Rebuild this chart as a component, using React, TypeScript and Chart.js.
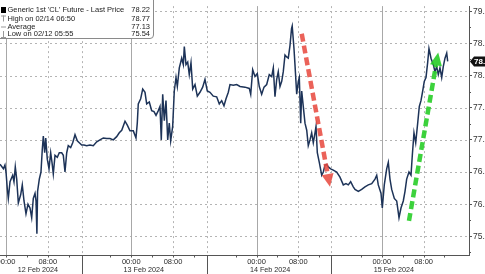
import React, { useEffect, useRef } from "react";
import { Chart, registerables } from "chart.js";

Chart.register(...registerables);

// ---- Data (hours since 12 Feb 2024 00:00, price in USD) ----
const HOURS = [
  -1.15, -0.5, -0.2, 0, 0.25, 0.44, 0.77, 1.28, 1.53, 1.78, 2.05, 2.36, 2.82, 3.12, 3.45, 3.83, 4.21, 4.6, 4.92, 5.23,
  5.56, 5.75, 5.92, 6.05, 6.38, 6.7, 6.95, 7.15, 7.41, 7.61, 7.91, 8.24, 8.56, 8.81, 9.06, 9.39, 9.83, 10.21, 10.67, 10.98,
  11.3, 11.63, 11.93, 12.39, 12.78, 13.22, 13.66, 14.04, 14.5, 14.94, 15.46, 16.09, 16.72, 17.38, 18.0, 18.64, 19.29, 19.92, 20.56, 21.2,
  21.7, 22.17, 22.8, 23.24, 23.75, 24.39, 24.9, 25.15, 25.34, 25.8, 26.19, 26.63, 26.95, 27.45, 27.91, 28.35, 28.74, 29.18, 29.5, 29.75,
  30.02, 30.33, 30.65, 30.98, 31.28, 31.55, 31.93, 32.24, 32.57, 32.82, 33.2, 33.66, 33.97, 34.16, 34.48, 34.81, 35.11, 35.44, 35.77, 36.21,
  36.65, 37.16, 37.68, 38.12, 38.56, 39.08, 39.71, 40.36, 40.86, 41.32, 41.76, 42.15, 42.59, 42.91, 43.54, 44.2, 44.83, 45.79, 46.61, 46.88,
  47.26, 47.7, 48.14, 48.52, 48.98, 49.43, 49.94, 50.44, 50.9, 51.21, 51.53, 51.86, 52.16, 52.49, 52.82, 53.12, 53.45, 53.77, 54.08, 54.41,
  54.7, 54.83, 55.17, 55.36, 55.69, 56.0, 56.19, 56.46, 56.65, 56.95, 57.28, 57.61, 57.91, 58.24, 58.56, 58.87, 59.2, 59.39, 59.64, 60.02,
  60.48, 60.79, 61.11, 61.44, 61.74, 62.2, 62.7, 63.35, 63.98, 64.62, 65.13, 65.57, 66.03, 66.53, 66.86, 67.5, 68.14, 68.77, 69.41, 70.06,
  70.69, 71.02, 71.32, 71.84, 72.09, 72.47, 72.93, 73.24, 73.56, 73.89, 74.39, 74.85, 75.29, 75.67, 76.11, 76.44, 76.76, 77.2, 77.59, 77.84,
  78.16, 78.49, 78.87, 79.18, 79.5, 79.83, 80.13, 80.46, 80.79, 81.03, 81.42, 81.86, 82.18, 82.51, 82.82, 83.14, 83.47, 83.77, 84.1, 84.43,
  84.62,
];

const PRICES = [
  76.62, 76.55, 76.61, 76.5, 76.24, 76.09, 76.35, 76.45, 76.35, 76.58, 76.39, 76.02, 76.15, 76.3, 76.05, 75.85, 76.0, 75.94, 75.79, 76.09,
  76.17, 76.05, 75.54, 76.2, 76.39, 76.5, 76.85, 77.06, 76.8, 77.03, 76.7, 76.55, 76.8, 76.65, 76.47, 76.76, 76.73, 76.8, 76.8, 76.76,
  76.5, 76.8, 76.91, 76.88, 76.955, 77.08, 76.985, 76.955, 76.92, 76.92, 76.91, 76.92, 76.91, 76.97, 77.0, 77.03, 77.02, 77.02, 77.0, 77.05,
  77.11, 77.15, 77.29, 77.23, 77.14, 77.14, 77.03, 77.26, 77.56, 77.64, 77.79, 77.74, 77.56, 77.59, 77.455, 77.44, 77.38, 77.455, 77.52, 77.0,
  77.71, 77.3, 77.61, 77.0, 77.26, 76.985, 77.21, 77.76, 77.97, 77.83, 78.12, 78.27, 78.17, 78.45, 78.17, 78.21, 78.015, 78.2, 77.79, 77.86,
  77.68, 77.74, 77.82, 77.94, 77.76, 77.74, 77.68, 77.67, 77.56, 77.61, 77.53, 77.64, 77.74, 77.86, 77.85, 77.86, 77.83, 77.82, 77.8, 77.71,
  78.09, 77.985, 78.03, 77.83, 77.71, 77.82, 77.86, 78.015, 77.985, 78.12, 77.67, 77.94, 78.06, 77.83, 77.91, 78.06, 78.32, 78.29, 78.27, 78.47,
  78.73, 78.77, 78.42, 78.17, 77.71, 77.91, 77.97, 77.26, 77.76, 77.52, 77.26, 77.15, 76.91, 77.0, 77.11, 76.955, 77.11, 77.21, 76.8, 76.65,
  76.45, 76.5, 76.61, 76.62, 76.58, 76.55, 76.53, 76.5, 76.42, 76.3, 76.32, 76.3, 76.35, 76.27, 76.23, 76.2, 76.23, 76.27, 76.3, 76.32,
  76.39, 76.45, 76.3, 76.17, 75.94, 76.3, 76.55, 76.65, 76.39, 76.23, 76.09, 76.05, 75.79, 75.94, 76.05, 76.2, 76.39, 76.5, 76.45, 76.76,
  77.11, 76.955, 77.26, 77.52, 77.61, 77.76, 77.91, 77.97, 78.21, 78.42, 78.27, 78.17, 78.06, 78.14, 78.015, 78.12, 77.97, 78.14, 78.27, 78.35,
  78.22,
];

const X_MIN = -1.15;
const X_MAX = 88.7;
const Y_MIN = 75.21;
const Y_MAX = 79.08;

const Y_TICKS = [75.5, 76.0, 76.5, 77.0, 77.5, 78.0, 78.5, 79.0];
const Y_MINOR_TICKS = [75.25, 75.75, 76.25, 76.75, 77.25, 77.75, 78.25, 78.75];

const MIDNIGHT_TICKS = [0, 24, 48, 72];
const MORNING_TICKS = [8, 32, 56, 80];
const TIME_TICKS = [0, 8, 24, 32, 48, 56, 72, 80];
const TIME_LABELS = ["00:00", "08:00", "00:00", "08:00", "00:00", "08:00", "00:00", "08:00"];
const X_MINOR_TICKS = [4, 12, 20, 28, 36, 44, 52, 60, 68, 76, 84];
const DAY_BOUNDS = [14.6, 38.5, 62.3];
const DAY_LABEL_POS = [6.1, 26.4, 50.6, 74.3];
const DAY_LABELS = ["12 Feb 2024", "13 Feb 2024", "14 Feb 2024", "15 Feb 2024"];

const LEGEND_NAMES = ["Generic 1st 'CL' Future - Last Price", "High on 02/14 06:50", "Average", "Low on 02/12 05:55"];
const LEGEND_VALUES = ["78.22", "78.77", "77.13", "75.54"];
const LAST_PRICE = 78.22;

const ARROW_DOWN = { from: [56.65, 78.65], to: [62.07, 76.27], color: "rgba(232,70,60,0.85)" };
const ARROW_UP = { from: [77.2, 75.74], to: [82.8, 78.36], color: "rgba(40,205,40,0.9)" };

const FONT = "'Liberation Sans', Arial, sans-serif";

function drawArrow(ctx: CanvasRenderingContext2D, x1: number, y1: number, x2: number, y2: number, color: string) {
  const ang = Math.atan2(y2 - y1, x2 - x1);
  const headLen = 13;
  const headHalf = 6;
  const bx = x2 - headLen * Math.cos(ang);
  const by = y2 - headLen * Math.sin(ang);
  ctx.save();
  ctx.strokeStyle = color;
  ctx.fillStyle = color;
  ctx.lineWidth = 4.5;
  ctx.setLineDash([8, 4]);
  ctx.beginPath();
  ctx.moveTo(x1, y1);
  ctx.lineTo(bx, by);
  ctx.stroke();
  ctx.setLineDash([]);
  ctx.beginPath();
  ctx.moveTo(x2, y2);
  ctx.lineTo(bx + headHalf * Math.sin(ang), by - headHalf * Math.cos(ang));
  ctx.lineTo(bx - headHalf * Math.sin(ang), by + headHalf * Math.cos(ang));
  ctx.closePath();
  ctx.fill();
  ctx.restore();
}

const decorPlugin = {
  id: "decor",
  beforeDatasetsDraw(chart: any) {
    const { ctx, chartArea } = chart;
    const xs = chart.scales.x;
    const ys = chart.scales.y;
    ctx.save();
    ctx.lineWidth = 1;
    ctx.strokeStyle = "#b4b4b4";
    ctx.setLineDash([2, 3]);
    Y_TICKS.forEach((v) => {
      const y = Math.round(ys.getPixelForValue(v)) + 0.5;
      ctx.beginPath();
      ctx.moveTo(chartArea.left, y);
      ctx.lineTo(chartArea.right, y);
      ctx.stroke();
    });
    [...MORNING_TICKS, ...DAY_BOUNDS].forEach((v) => {
      const x = Math.round(xs.getPixelForValue(v)) + 0.5;
      ctx.beginPath();
      ctx.moveTo(x, chartArea.top);
      ctx.lineTo(x, chartArea.bottom);
      ctx.stroke();
    });
    ctx.setLineDash([]);
    ctx.strokeStyle = "#a8a8a8";
    MIDNIGHT_TICKS.forEach((v) => {
      const x = Math.round(xs.getPixelForValue(v)) + 0.5;
      ctx.beginPath();
      ctx.moveTo(x, chartArea.top);
      ctx.lineTo(x, chartArea.bottom);
      ctx.stroke();
    });
    ctx.restore();
  },
  afterDatasetsDraw(chart: any) {
    const { ctx } = chart;
    const xs = chart.scales.x;
    const ys = chart.scales.y;
    [ARROW_DOWN, ARROW_UP].forEach((a) => {
      drawArrow(
        ctx,
        xs.getPixelForValue(a.from[0]),
        ys.getPixelForValue(a.from[1]),
        xs.getPixelForValue(a.to[0]),
        ys.getPixelForValue(a.to[1]),
        a.color
      );
    });
  },
  afterDraw(chart: any) {
    const { ctx, chartArea } = chart;
    const xs = chart.scales.x;
    const ys = chart.scales.y;
    const H = chart.height;
    ctx.save();
    ctx.strokeStyle = "#555";
    ctx.lineWidth = 1;
    const by = Math.round(chartArea.bottom) + 0.5;
    ctx.beginPath();
    ctx.moveTo(chartArea.left, by);
    ctx.lineTo(chartArea.right + 1, by);
    ctx.stroke();
    [...TIME_TICKS, ...X_MINOR_TICKS].forEach((v) => {
      const x = Math.round(xs.getPixelForValue(v)) + 0.5;
      ctx.beginPath();
      ctx.moveTo(x, by);
      ctx.lineTo(x, by + 2);
      ctx.stroke();
    });
    DAY_BOUNDS.forEach((v) => {
      const x = Math.round(xs.getPixelForValue(v)) + 0.5;
      ctx.beginPath();
      ctx.moveTo(x, by);
      ctx.lineTo(x, H);
      ctx.stroke();
    });
    ctx.fillStyle = "#2a2a2a";
    ctx.font = `7.5px ${FONT}`;
    ctx.textAlign = "center";
    ctx.textBaseline = "middle";
    TIME_TICKS.forEach((v, i) => {
      ctx.fillText(TIME_LABELS[i], xs.getPixelForValue(v), by + 6);
    });
    ctx.font = `7.2px ${FONT}`;
    DAY_LABELS.forEach((lbl, i) => {
      ctx.fillText(lbl, xs.getPixelForValue(DAY_LABEL_POS[i]), by + 14.5);
    });
    ctx.strokeStyle = "#555";
    Y_MINOR_TICKS.forEach((v) => {
      const y = Math.round(ys.getPixelForValue(v)) + 0.5;
      ctx.beginPath();
      ctx.moveTo(chartArea.right, y);
      ctx.lineTo(chartArea.right + 2, y);
      ctx.stroke();
    });
    const py = ys.getPixelForValue(LAST_PRICE);
    const tx = chartArea.right + 1;
    ctx.fillStyle = "#111";
    ctx.beginPath();
    ctx.moveTo(tx, py);
    ctx.lineTo(tx + 4, py - 5);
    ctx.lineTo(tx + 30, py - 5);
    ctx.lineTo(tx + 30, py + 5);
    ctx.lineTo(tx + 4, py + 5);
    ctx.closePath();
    ctx.fill();
    ctx.fillStyle = "#fff";
    ctx.font = `bold 8px ${FONT}`;
    ctx.textAlign = "left";
    ctx.fillText(LAST_PRICE.toFixed(2), tx + 4, py + 0.5);

    const lw = 153;
    const lh = 38;
    ctx.fillStyle = "#fff";
    ctx.strokeStyle = "#8a8a8a";
    ctx.lineWidth = 1;
    ctx.beginPath();
    ctx.moveTo(-2, -2);
    ctx.lineTo(lw + 0.5, -2);
    ctx.lineTo(lw + 0.5, lh - 3);
    ctx.quadraticCurveTo(lw + 0.5, lh + 0.5, lw - 3, lh + 0.5);
    ctx.lineTo(-2, lh + 0.5);
    ctx.closePath();
    ctx.fill();
    ctx.stroke();
    ctx.font = `7.5px ${FONT}`;
    ctx.textBaseline = "middle";
    const rows = [10, 18.5, 26.5, 34];
    ctx.fillStyle = "#000";
    ctx.fillRect(1, rows[0] - 3, 5, 6);
    ctx.strokeStyle = "#999";
    ctx.beginPath();
    ctx.moveTo(1, rows[1] - 3 + 0.5);
    ctx.lineTo(6, rows[1] - 3 + 0.5);
    ctx.moveTo(3.5, rows[1] - 3);
    ctx.lineTo(3.5, rows[1] + 3);
    ctx.moveTo(1, rows[2] + 0.5);
    ctx.lineTo(6, rows[2] + 0.5);
    ctx.moveTo(1, rows[3] + 3 + 0.5);
    ctx.lineTo(6, rows[3] + 3 + 0.5);
    ctx.moveTo(3.5, rows[3] - 3);
    ctx.lineTo(3.5, rows[3] + 3);
    ctx.stroke();
    ctx.fillStyle = "#222";
    LEGEND_NAMES.forEach((n, i) => {
      ctx.textAlign = "left";
      ctx.fillText(n, 7.5, rows[i]);
      ctx.textAlign = "right";
      ctx.fillText(LEGEND_VALUES[i], lw - 3, rows[i]);
    });
    ctx.restore();
  },
};

export default function App() {
  const ref = useRef<HTMLCanvasElement | null>(null);
  useEffect(() => {
    if (!ref.current) return;
    const points = HOURS.map((h, i) => ({ x: h, y: PRICES[i] }));
    const chart = new Chart(ref.current, {
      type: "line",
      data: {
        datasets: [
          {
            data: points,
            borderColor: "#1d3358",
            borderWidth: 1.5,
            pointRadius: 0,
            tension: 0,
          },
        ],
      },
      options: {
        animation: false,
        responsive: false,
        devicePixelRatio: 1,
        layout: { padding: { left: 0, top: 0, right: 0, bottom: 19 } },
        plugins: { legend: { display: false }, tooltip: { enabled: false } },
        scales: {
          x: { type: "linear", min: X_MIN, max: X_MAX, display: false },
          y: {
            position: "right",
            min: Y_MIN,
            max: Y_MAX,
            afterBuildTicks: (s: any) => {
              s.ticks = Y_TICKS.map((v) => ({ value: v }));
            },
            afterFit: (s: any) => {
              s.width = 16;
            },
            grid: { display: true, drawOnChartArea: false, drawTicks: true, tickLength: 3, color: "#555" },
            border: { display: true, color: "#555", width: 1 },
            ticks: {
              padding: 1,
              color: "#333",
              font: { size: 8.5, family: FONT },
              callback: (v: any) => Number(v).toFixed(1),
            },
          },
        },
      },
      plugins: [decorPlugin],
    });
    return () => chart.destroy();
  }, []);
  return (
    <div style={{ position: "absolute", left: 0, top: 0, width: 485, height: 274 }}>
      <canvas ref={ref} width={485} height={274} style={{ display: "block" }} />
    </div>
  );
}
